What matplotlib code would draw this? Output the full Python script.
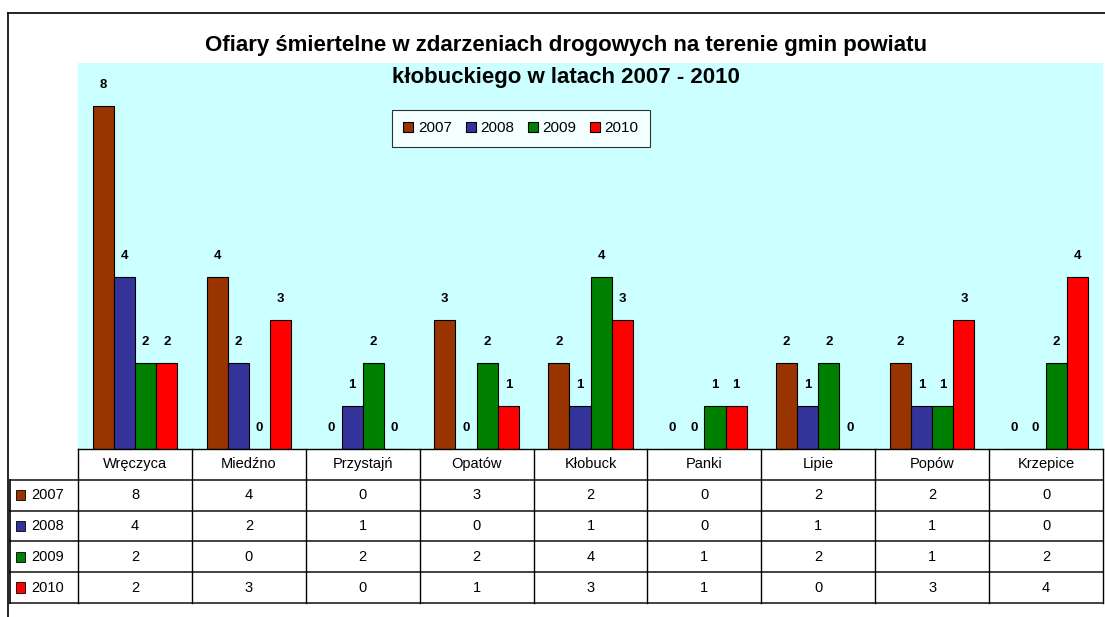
import matplotlib
matplotlib.use('Agg')
import matplotlib.pyplot as plt
from matplotlib.lines import Line2D
from matplotlib.patches import Rectangle

plt.rcParams['font.family'] = ['Liberation Sans', 'DejaVu Sans']

gminy = ['Wręczyca', 'Miedźno', 'Przystajń', 'Opatów', 'Kłobuck', 'Panki', 'Lipie', 'Popów', 'Krzepice']
lata = ['2007', '2008', '2009', '2010']
v2007 = [8, 4, 0, 3, 2, 0, 2, 2, 0]
v2008 = [4, 2, 1, 0, 1, 0, 1, 1, 0]
v2009 = [2, 0, 2, 2, 4, 1, 2, 1, 2]
v2010 = [2, 3, 0, 1, 3, 1, 0, 3, 4]
serie = [v2007, v2008, v2009, v2010]
kolory = ['#993300', '#333399', '#008000', '#FF0000']

W, H = 1105, 617
fig = plt.figure(figsize=(W / 100, H / 100), dpi=100)

# plot area (pixel box -> figure fraction)
x0, x1, ytop, ybot, ytab = 78, 1103, 63, 449, 603
ax = fig.add_axes([x0 / W, (H - ybot) / H, (x1 - x0) / W, (ybot - ytop) / H])
ax.set_facecolor('#CCFFFF')
ax.set_xlim(-0.5, len(gminy) - 0.5)
ax.set_ylim(0, 9)
ax.set_xticks([])
ax.set_yticks([])
for s in ['left', 'top', 'right']:
    ax.spines[s].set_visible(False)
ax.spines['bottom'].set_linewidth(1.0)

w = 21 / 113
for k, (vals, c) in enumerate(zip(serie, kolory)):
    xs = [i + (k - 1.5) * w for i in range(len(gminy))]
    ax.bar(xs, vals, width=w, color=c, edgecolor='black', linewidth=0.8, label=lata[k])
    for x, v in zip(xs, vals):
        ax.annotate(str(v), (x, v), xytext=(0, 15), textcoords='offset pixels',
                    ha='center', va='bottom', fontsize=9.5, fontweight='bold')

leg = ax.legend(loc='upper left', bbox_to_anchor=((392 - x0) / (x1 - x0), 1 - (110 - ytop) / (ybot - ytop)),
                ncol=4, fontsize=11, frameon=True, fancybox=False, edgecolor='black',
                handlelength=0.65, handleheight=0.65, handletextpad=0.3, columnspacing=0.9,
                borderpad=0.75, borderaxespad=0)
leg.get_frame().set_linewidth(0.8)

fig.text(0.512, 1 - 45 / H, 'Ofiary śmiertelne w zdarzeniach drogowych na terenie gmin powiatu',
         ha='center', va='center', fontsize=16, fontweight='bold')
fig.text(0.512, 1 - 77 / H, 'kłobuckiego w latach 2007 - 2010',
         ha='center', va='center', fontsize=16, fontweight='bold')

# data table
tab = fig.add_axes([x0 / W, (H - ytab) / H, (x1 - x0) / W, (ytab - ybot) / H])
tab.set_xlim(-0.5, len(gminy) - 0.5)
tab.set_ylim(5, 0)
tab.axis('off')
legw = (x0 - 11) / 113
left = -0.5 - legw
lc = '#222222'
for r in range(1, 6):
    tab.add_line(Line2D([left, len(gminy) - 0.5], [r, r], color=lc, lw=1.2, clip_on=False))
for i in range(len(gminy) + 1):
    tab.add_line(Line2D([i - 0.5, i - 0.5], [0, 5], color='black', lw=1.0, clip_on=False))
tab.add_line(Line2D([left, left], [1, 5], color='black', lw=1.2, clip_on=False))

for i, g in enumerate(gminy):
    tab.text(i, 0.5, g, ha='center', va='center', fontsize=10.5)
for r, (vals, c, rok) in enumerate(zip(serie, kolory, lata)):
    yc = r + 1.5
    for i, v in enumerate(vals):
        tab.text(i, yc, str(v), ha='center', va='center', fontsize=10.5)
    tab.add_patch(Rectangle((left + 5 / 113, yc - 0.17), 9 / 113, 0.34, facecolor=c,
                            edgecolor='black', lw=0.6, clip_on=False))
    tab.text(left + 21 / 113, yc, rok, ha='left', va='center', fontsize=10.5)

# outer chart frame
fig.add_artist(Line2D([8 / W, 8 / W], [0, 1 - 13 / H], color='black', lw=1.2))
fig.add_artist(Line2D([8 / W, 1], [1 - 13 / H, 1 - 13 / H], color='black', lw=1.2))

fig.savefig('out.png', dpi=100)
